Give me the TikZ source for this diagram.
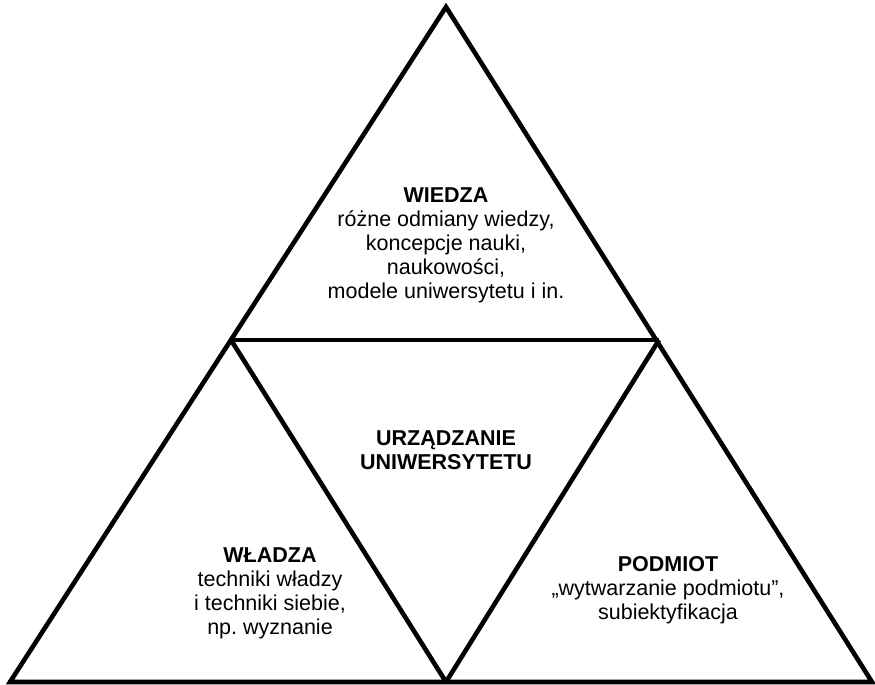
\documentclass[tikz,border=0pt]{standalone}
\usepackage{fontspec}
\setmainfont{Liberation Sans}
\begin{document}
\begin{tikzpicture}[x=1pt,y=-1pt,
  label/.style={align=center,font=\fontsize{21.5}{24}\selectfont,inner sep=0pt},
  side/.style={line width=4.6pt,line join=miter}]
  \useasboundingbox (0,0) rectangle (875,685);

  \draw[side] (446,7) -- (10,682) -- (872,682) -- cycle;
  \draw[side] (231,340) -- (659,340);
  \draw[side] (231,340) -- (446,682);
  \draw[side] (659,340) -- (446,682);

  \node[label] (wiedza) at (446,245) {\textbf{WIEDZA}\\różne odmiany wiedzy,\\koncepcje nauki,\\naukowości,\\modele uniwersytetu i in.};
  \node[label] (urzadzanie) at (446,450) {\textbf{URZĄDZANIE}\\\textbf{UNIWERSYTETU}};
  \node[label] (wladza) at (270,593) {\textbf{WŁADZA}\\techniki władzy\\i techniki siebie,\\np.\ wyznanie};
  \node[label] (podmiot) at (668,590) {\textbf{PODMIOT}\\„wytwarzanie podmiotu”,\\subiektyfikacja};

\end{tikzpicture}
\end{document}
